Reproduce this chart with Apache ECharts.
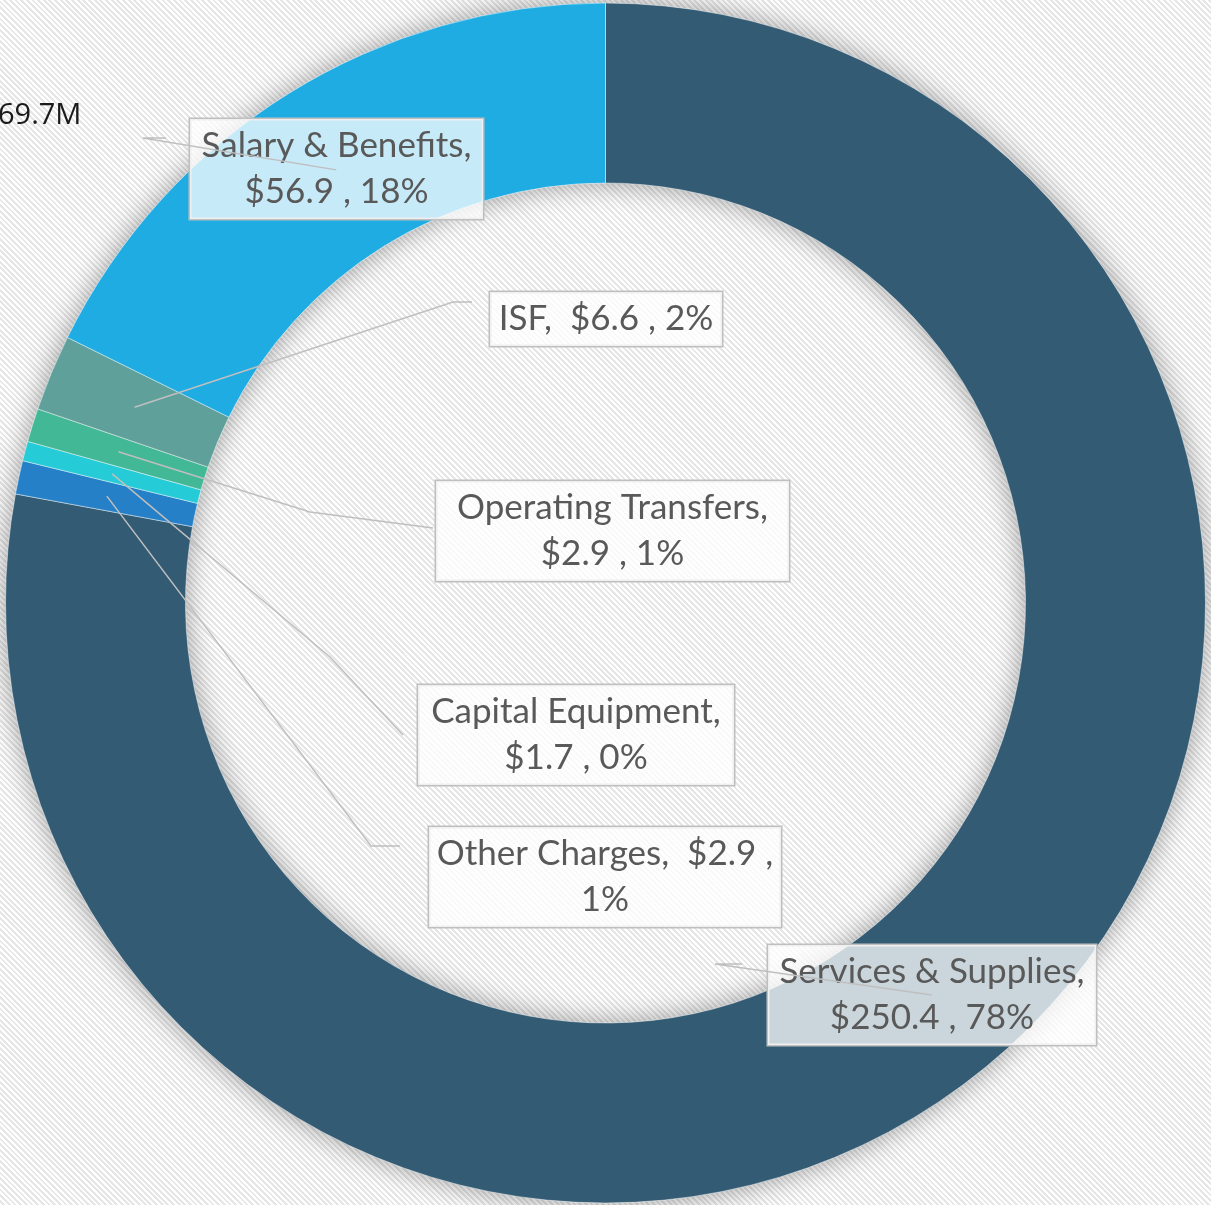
<!DOCTYPE html>
<html><head><meta charset="utf-8">
<script src="https://cdn.jsdelivr.net/npm/echarts@6/dist/echarts.min.js"></script>
<style>
html,body{margin:0;padding:0;overflow:hidden;}
#c{width:1211px;height:1205px;background:repeating-linear-gradient(45deg,#ffffff 0px,#ffffff 2px,#e6e6e6 2px,#e6e6e6 4px);}
</style></head><body><div id="c"></div>
<script>
// ---- data ----
const categories = ['Services & Supplies', 'Other Charges', 'Capital Equipment', 'Operating Transfers', 'ISF', 'Salary & Benefits'];
const values = [250.4, 2.9, 1.7, 2.9, 6.6, 56.9];
const pctLabels = [78, 1, 0, 1, 2, 18];
const totalLabel = '69.7M';

// ---- styles / layout ----
const colors = ['#335B74', '#2580C7', '#25CBD6', '#43B896', '#5FA09B', '#1FACE3'];
const wrapMode = ['name', 'value', 'name', 'name', 'none', 'name'];
const boxCenters = [[932, 995], [605, 877], [576, 735], [612.5, 531], [606, 319], [336.5, 169]];
const boxWidths = [328, 352, 316, 353, 232, 293];
const leaderElbows = [[715, 964], [371, 846], [330, 657], [310, 512], [453, 302], [143, 138]];
const leaderEnds = [[742, 964], [400, 846], [403, 735], [433, 528], [472, 302], [166, 138]];
const CENTER = [605.5, 603];
const RADIUS = [420, 600];

function labelText(i) {
  const name = categories[i], v = '$' + values[i].toFixed(1), p = pctLabels[i] + '%';
  if (wrapMode[i] === 'name') return name + ',\n' + v + ' , ' + p;
  if (wrapMode[i] === 'value') return name + ',  ' + v + ' ,\n' + p;
  return name + ',  ' + v + ' , ' + p;
}

const chart = echarts.init(document.getElementById('c'), null, {renderer: 'canvas'});

function sliceMid(i) {
  try {
    const lay = chart.getModel().getSeriesByIndex(1).getData().getItemLayout(i);
    const mid = (lay.startAngle + lay.endAngle) / 2;
    const rm = (lay.r + lay.r0) / 2;
    return [lay.cx + rm * Math.cos(mid), lay.cy + rm * Math.sin(mid)];
  } catch (e) {
    const tot = values.reduce((a, b) => a + b, 0);
    let acc = 0; for (let k = 0; k < i; k++) acc += values[k];
    const mid = -Math.PI / 2 + (acc + values[i] / 2) / tot * Math.PI * 2;
    const rm = (RADIUS[0] + RADIUS[1]) / 2;
    return [CENTER[0] + rm * Math.cos(mid), CENTER[1] + rm * Math.sin(mid)];
  }
}

const option = {
  backgroundColor: 'transparent',
  animation: false,
  graphic: [{
    id: 'total', type: 'text', left: -2, top: 101, z: 10,
    style: {text: totalLabel, font: '29px "Open Sans"', fill: '#1a1a1a'}
  }],
  series: [
    {
      type: 'pie', z: 1, silent: true, center: CENTER, radius: RADIUS,
      label: {show: false}, labelLine: {show: false},
      itemStyle: {color: '#cfcfcf', shadowBlur: 28, shadowColor: 'rgba(0,0,0,0.38)'},
      data: [{value: 1, name: 'shadow'}]
    },
    {
      type: 'pie', z: 2, center: CENTER, radius: RADIUS, startAngle: 90, clockwise: true,
      avoidLabelOverlap: false, minShowLabelAngle: 0,
      itemStyle: {borderColor: 'rgba(255,255,255,0.45)', borderWidth: 1},
      label: {
        show: true, position: 'outside', color: '#595959',
        fontFamily: 'Lato', fontSize: 35, lineHeight: 46,
        backgroundColor: 'rgba(255,255,255,0.75)', borderColor: '#BFBFBF', borderWidth: 1.5,
        padding: [4, 0, 4, 0], align: 'center'
      },
      labelLine: {show: false},
      labelLayout: function (p) {
        const i = p.dataIndex;
        return {x: boxCenters[i][0], y: boxCenters[i][1], align: 'center', verticalAlign: 'middle'};
      },
      data: categories.map((c, i) => ({
        name: c, value: values[i],
        itemStyle: {color: colors[i]},
        label: {formatter: labelText(i), width: boxWidths[i]}
      }))
    }
  ]
};
chart.setOption(option);

// leader lines, starting at each slice's mid point (from the library's layout)
chart.setOption({
  graphic: categories.map((c, i) => ({
    id: 'leader' + i, type: 'polyline', z: 20, silent: true,
    shape: {points: [sliceMid(i), leaderElbows[i], leaderEnds[i]]},
    style: {stroke: '#BFBFBF', lineWidth: 1.5, fill: null}
  }))
});
</script></body></html>
